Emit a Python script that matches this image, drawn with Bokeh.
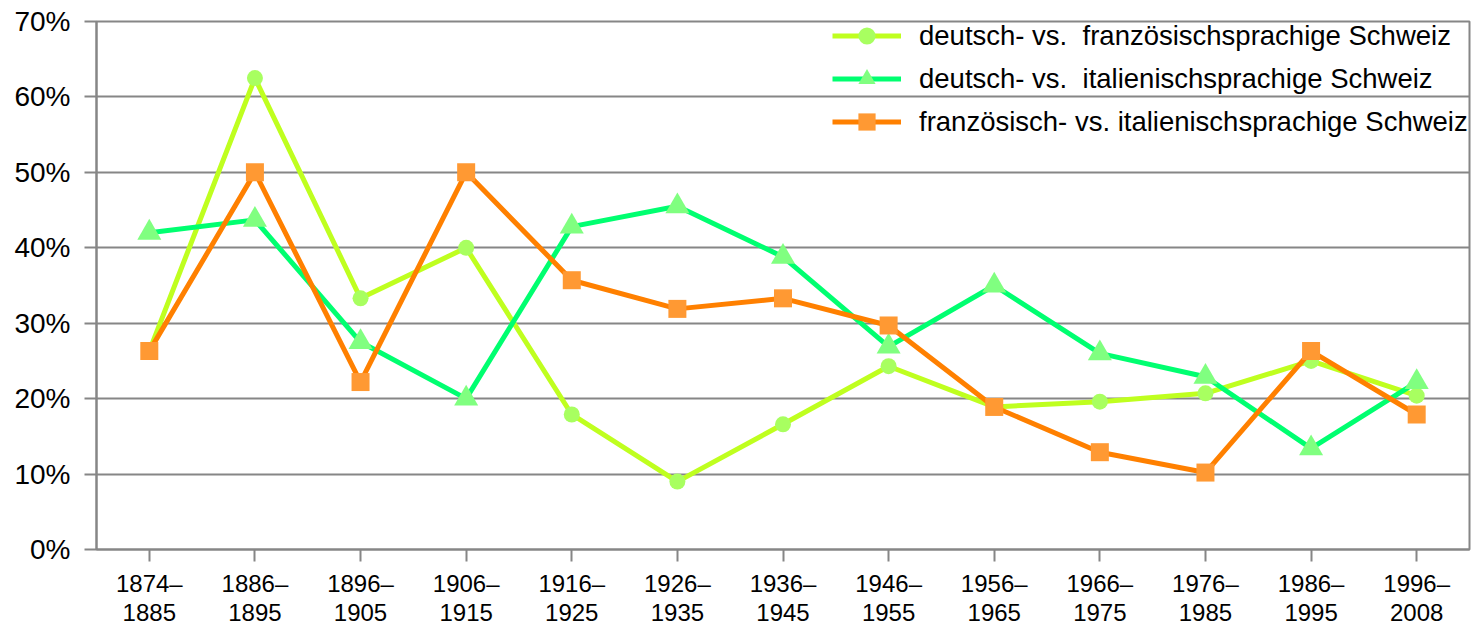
from bokeh.plotting import figure
from bokeh.models import FactorRange, Legend, LegendItem, PrintfTickFormatter, FixedTicker
from bokeh.embed import file_html
from bokeh.resources import INLINE

periods = ["1874–\n1885", "1886–\n1895", "1896–\n1905", "1906–\n1915", "1916–\n1925",
           "1926–\n1935", "1936–\n1945", "1946–\n1955", "1956–\n1965", "1966–\n1975",
           "1976–\n1985", "1986–\n1995", "1996–\n2008"]

de_fr = [26.3, 62.5, 33.3, 40.0, 17.9, 9.0, 16.6, 24.3, 18.9, 19.6, 20.7, 25.0, 20.4]
de_it = [42.0, 43.7, 27.5, 20.0, 42.8, 45.5, 38.8, 26.9, 35.0, 26.0, 22.9, 13.4, 22.2]
fr_it = [26.3, 50.0, 22.2, 50.0, 35.7, 31.9, 33.3, 29.7, 18.9, 12.9, 10.2, 26.3, 17.9]

labels = ["deutsch- vs.  französischsprachige Schweiz",
          "deutsch- vs.  italienischsprachige Schweiz",
          "französisch- vs. italienischsprachige Schweiz"]
y_ticks = [0, 10, 20, 30, 40, 50, 60, 70]

FONT = "Liberation Sans"
GRAY = "#868686"

p = figure(width=1481, height=629, x_range=FactorRange(*periods, range_padding=0),
           y_range=(0, 70), output_backend="svg", toolbar_location=None,
           min_border_left=96, min_border_right=12, min_border_top=21, min_border_bottom=79)

p.outline_line_color = GRAY
p.outline_line_width = 2
p.xgrid.grid_line_color = None
p.ygrid.grid_line_color = GRAY
p.ygrid.grid_line_width = 2
p.yaxis.ticker = FixedTicker(ticks=y_ticks)
p.yaxis.formatter = PrintfTickFormatter(format="%d%%")

for ax in (p.xaxis, p.yaxis):
    ax.axis_line_color = GRAY
    ax.axis_line_width = 2
    ax.major_tick_line_color = GRAY
    ax.major_tick_line_width = 2
    ax.major_tick_out = 12
    ax.major_tick_in = 0
    ax.minor_tick_line_color = None
    ax.major_label_text_font = FONT
    ax.major_label_text_color = "black"

p.yaxis.major_label_text_font_size = "28px"
p.yaxis.major_label_standoff = 14
p.xaxis.major_label_text_font_size = "24px"
p.xaxis.major_label_standoff = 8
p.xaxis.major_label_text_line_height = 1.1

series = [
    (de_fr, "#BFFF1F", "circle", "#A8FF60", 16),
    (de_it, "#00FF70", "triangle", "#80FF80", 24),
    (fr_it, "#FF8000", "square", "#FF9933", 18),
]

items = []
for (vals, lc, marker, mc, size), lab in zip(series, labels):
    l = p.line(periods, vals, line_color=lc, line_width=5)
    s = p.scatter(periods, vals, marker=marker, size=size, fill_color=mc, line_color=None)
    items.append(LegendItem(label=lab, renderers=[l, s]))

legend = Legend(items=items, location=(736, 406), orientation="vertical",
                border_line_color=None, background_fill_alpha=0,
                padding=0, margin=0, spacing=0, glyph_width=69, glyph_height=43,
                label_standoff=18, label_text_font=FONT, label_text_font_size="27.5px",
                label_text_color="black", label_height=30)
p.add_layout(legend, "center")

open("out.html", "w").write(file_html(p, INLINE))
